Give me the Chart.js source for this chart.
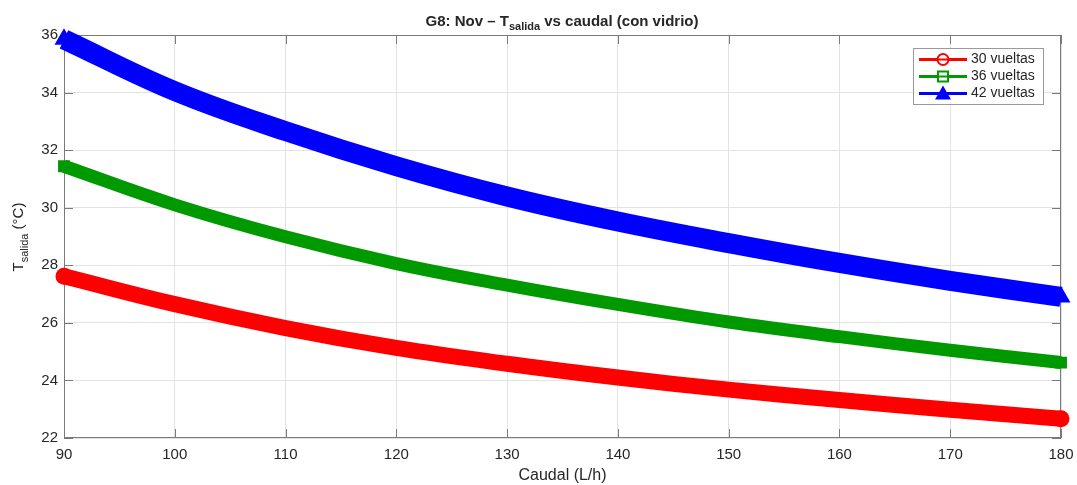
<!DOCTYPE html>
<html><head><meta charset="utf-8">
<script src="https://cdn.jsdelivr.net/npm/chart.js@4.4.1/dist/chart.umd.min.js"></script>
<style>html,body{margin:0;padding:0;background:#fff}#wrap{position:relative;width:1077px;height:485px}</style>
</head><body><div id="wrap"><canvas id="c"></canvas></div>
<script>
// ---- data ----
const caudal = [90, 100, 110, 120, 130, 140, 150, 160, 170, 180];
const t30 = [27.62, 26.65, 25.82, 25.13, 24.58, 24.10, 23.68, 23.32, 22.98, 22.67];
const t36 = [31.44, 30.10, 28.99, 28.06, 27.31, 26.64, 26.03, 25.52, 25.05, 24.62];
const t42 = [35.85, 34.05, 32.66, 31.44, 30.39, 29.52, 28.77, 28.08, 27.46, 26.90];
const seriesLabels = ['30 vueltas', '36 vueltas', '42 vueltas'];
const xTickValues = [90, 100, 110, 120, 130, 140, 150, 160, 170, 180];
const yTickValues = [22, 24, 26, 28, 30, 32, 34, 36];

const FONT = '"Liberation Sans", Arial, Helvetica, sans-serif';
const TXT = '#262626';
const AXIS = '#7a7a7a';

function pts(xs, ys) { return xs.map((x, i) => ({x: x, y: ys[i]})); }
function endOnly(r) { return ctx => (ctx.dataIndex === 0 || ctx.dataIndex === ctx.dataset.data.length - 1) ? r : 0; }

const decor = {
  id: 'decor',
  beforeDatasetsDraw(chart) {
    const {ctx, chartArea: a, scales: {x, y}} = chart;
    ctx.save();
    ctx.strokeStyle = AXIS; ctx.lineWidth = 1;
    ctx.strokeRect(a.left + 0.5, a.top + 0.5, a.right - a.left - 1, a.bottom - a.top - 1);
    const L = 9;
    ctx.beginPath();
    xTickValues.forEach(v => {
      const px = Math.round(x.getPixelForValue(v)) + 0.5;
      ctx.moveTo(px, a.bottom); ctx.lineTo(px, a.bottom - L);
      ctx.moveTo(px, a.top); ctx.lineTo(px, a.top + L);
    });
    yTickValues.forEach(v => {
      const py = Math.round(y.getPixelForValue(v)) + 0.5;
      ctx.moveTo(a.left, py); ctx.lineTo(a.left + L, py);
      ctx.moveTo(a.right, py); ctx.lineTo(a.right - L, py);
    });
    ctx.stroke();
    ctx.restore();
  },
  afterDraw(chart) {
    const {ctx} = chart;
    ctx.save();
    // Title with subscript
    const p1 = 'G8: Nov \u2013 T', p2 = 'salida', p3 = ' vs caudal (con vidrio)';
    ctx.fillStyle = TXT; ctx.textBaseline = 'alphabetic'; ctx.textAlign = 'left';
    ctx.font = 'bold 15px ' + FONT; const w1 = ctx.measureText(p1).width, w3 = ctx.measureText(p3).width;
    ctx.font = 'bold 11px ' + FONT; const w2 = ctx.measureText(p2).width;
    let tx = 562 - (w1 + w2 + w3) / 2;
    ctx.font = 'bold 15px ' + FONT; ctx.fillText(p1, tx, 26); tx += w1;
    ctx.font = 'bold 11px ' + FONT; ctx.fillText(p2, tx, 30); tx += w2;
    ctx.font = 'bold 15px ' + FONT; ctx.fillText(p3, tx, 26);

    // Y axis title (rotated) with subscript
    const q1 = 'T', q2 = 'salida', q3 = ' (\u00B0C)';
    ctx.font = '15px ' + FONT; const v1 = ctx.measureText(q1).width, v3 = ctx.measureText(q3).width;
    ctx.font = '11px ' + FONT; const v2 = ctx.measureText(q2).width;
    ctx.translate(23, 237); ctx.rotate(-Math.PI / 2);
    let ux = -(v1 + v2 + v3) / 2;
    ctx.font = '15px ' + FONT; ctx.fillText(q1, ux, 0); ux += v1;
    ctx.font = '11px ' + FONT; ctx.fillText(q2, ux, 5); ux += v2;
    ctx.font = '15px ' + FONT; ctx.fillText(q3, ux, 0);
    ctx.setTransform(1, 0, 0, 1, 0, 0);

    // Legend
    const bx = 913, by = 48, bw = 130, bh = 56;
    ctx.fillStyle = '#fff'; ctx.fillRect(bx, by, bw, bh);
    ctx.strokeStyle = '#9a9a9a'; ctx.lineWidth = 1; ctx.strokeRect(bx + 0.5, by + 0.5, bw, bh);
    const rows = [59.5, 76.5, 93.5];
    let row = 0;
    chart.data.datasets.forEach(ds => {
      if (ds.legendHidden) return;
      const i = row++;
      const yy = rows[i];
      ctx.strokeStyle = ds.borderColor; ctx.lineWidth = 3;
      ctx.beginPath(); ctx.moveTo(919, yy); ctx.lineTo(967, yy); ctx.stroke();
      const cx = 943;
      ctx.lineWidth = 2;
      if (i === 0) {
        ctx.fillStyle = '#fff';
        ctx.beginPath(); ctx.arc(cx, yy, 5.5, 0, Math.PI * 2); ctx.fill(); ctx.stroke();
        ctx.beginPath(); ctx.moveTo(cx - 5, yy); ctx.lineTo(cx + 5, yy); ctx.stroke();
      } else if (i === 1) {
        ctx.fillStyle = '#fff';
        ctx.fillRect(cx - 5, yy - 5, 10, 10); ctx.strokeRect(cx - 5, yy - 5, 10, 10);
        ctx.beginPath(); ctx.moveTo(cx - 5, yy); ctx.lineTo(cx + 5, yy); ctx.stroke();
      } else {
        ctx.fillStyle = ds.borderColor;
        ctx.beginPath(); ctx.moveTo(cx, yy - 8); ctx.lineTo(cx + 8, yy + 6); ctx.lineTo(cx - 8, yy + 6); ctx.closePath(); ctx.fill();
      }
      ctx.fillStyle = TXT; ctx.font = '14px ' + FONT; ctx.textBaseline = 'middle'; ctx.textAlign = 'left';
      ctx.fillText(ds.label, 971, yy);
    });
    ctx.restore();
  }
};

new Chart(document.getElementById('c'), {
  type: 'line',
  data: {
    datasets: [
      { label: seriesLabels[0], data: pts(caudal, t30), borderColor: '#ff0000', backgroundColor: '#ff0000',
        borderWidth: 16, pointStyle: 'circle', pointRadius: endOnly(8.5), pointBorderWidth: 0, clip: false, tension: 0.4 },
      { label: seriesLabels[1], data: pts(caudal, t36), borderColor: '#009900', backgroundColor: '#ffffff',
        borderWidth: 13, pointStyle: 'rect', pointRadius: endOnly(7), pointBorderWidth: 2, pointBorderColor: '#009900', pointBackgroundColor: '#009900', clip: false, tension: 0.4 },
      { label: seriesLabels[1], legendHidden: true, data: pts(caudal, t36), borderColor: 'rgba(255,255,255,0.45)',
        borderWidth: 1.5, borderDash: [1.5, 2.5], pointRadius: 0, clip: false, tension: 0.4 },
      { label: seriesLabels[2], data: pts(caudal, t42), borderColor: '#0000ff', backgroundColor: '#0000ff',
        borderWidth: 20, pointStyle: 'triangle', pointRadius: endOnly(11), pointBorderWidth: 0, clip: false, tension: 0.4 }
    ]
  },
  options: {
    responsive: true, maintainAspectRatio: false, animation: false,
    layout: { padding: { top: 35, right: 16, left: 0, bottom: 0 } },
    plugins: { legend: { display: false }, title: { display: false }, tooltip: { enabled: false } },
    scales: {
      x: {
        type: 'linear', min: 90, max: 180,
        afterBuildTicks: s => { s.ticks = xTickValues.map(v => ({value: v})); },
        afterFit: s => { s.height = 47; s.paddingLeft = 0; s.paddingRight = 0; },
        grid: { color: '#e3e3e3', drawTicks: false, lineWidth: 1 },
        border: { display: false },
        ticks: { color: TXT, font: { family: FONT, size: 15 }, padding: 8, maxRotation: 0 },
        title: { display: true, text: 'Caudal (L/h)', color: TXT, font: { family: FONT, size: 16 }, padding: { top: 1, bottom: 0 } }
      },
      y: {
        type: 'linear', min: 22, max: 36,
        afterBuildTicks: s => { s.ticks = yTickValues.map(v => ({value: v})); },
        afterFit: s => { s.width = 64; s.paddingTop = 0; s.paddingBottom = 0; },
        grid: { color: '#e3e3e3', drawTicks: false, lineWidth: 1 },
        border: { display: false },
        ticks: { color: TXT, font: { family: FONT, size: 15 }, padding: 6 }
      }
    }
  },
  plugins: [decor]
});
</script></body></html>
